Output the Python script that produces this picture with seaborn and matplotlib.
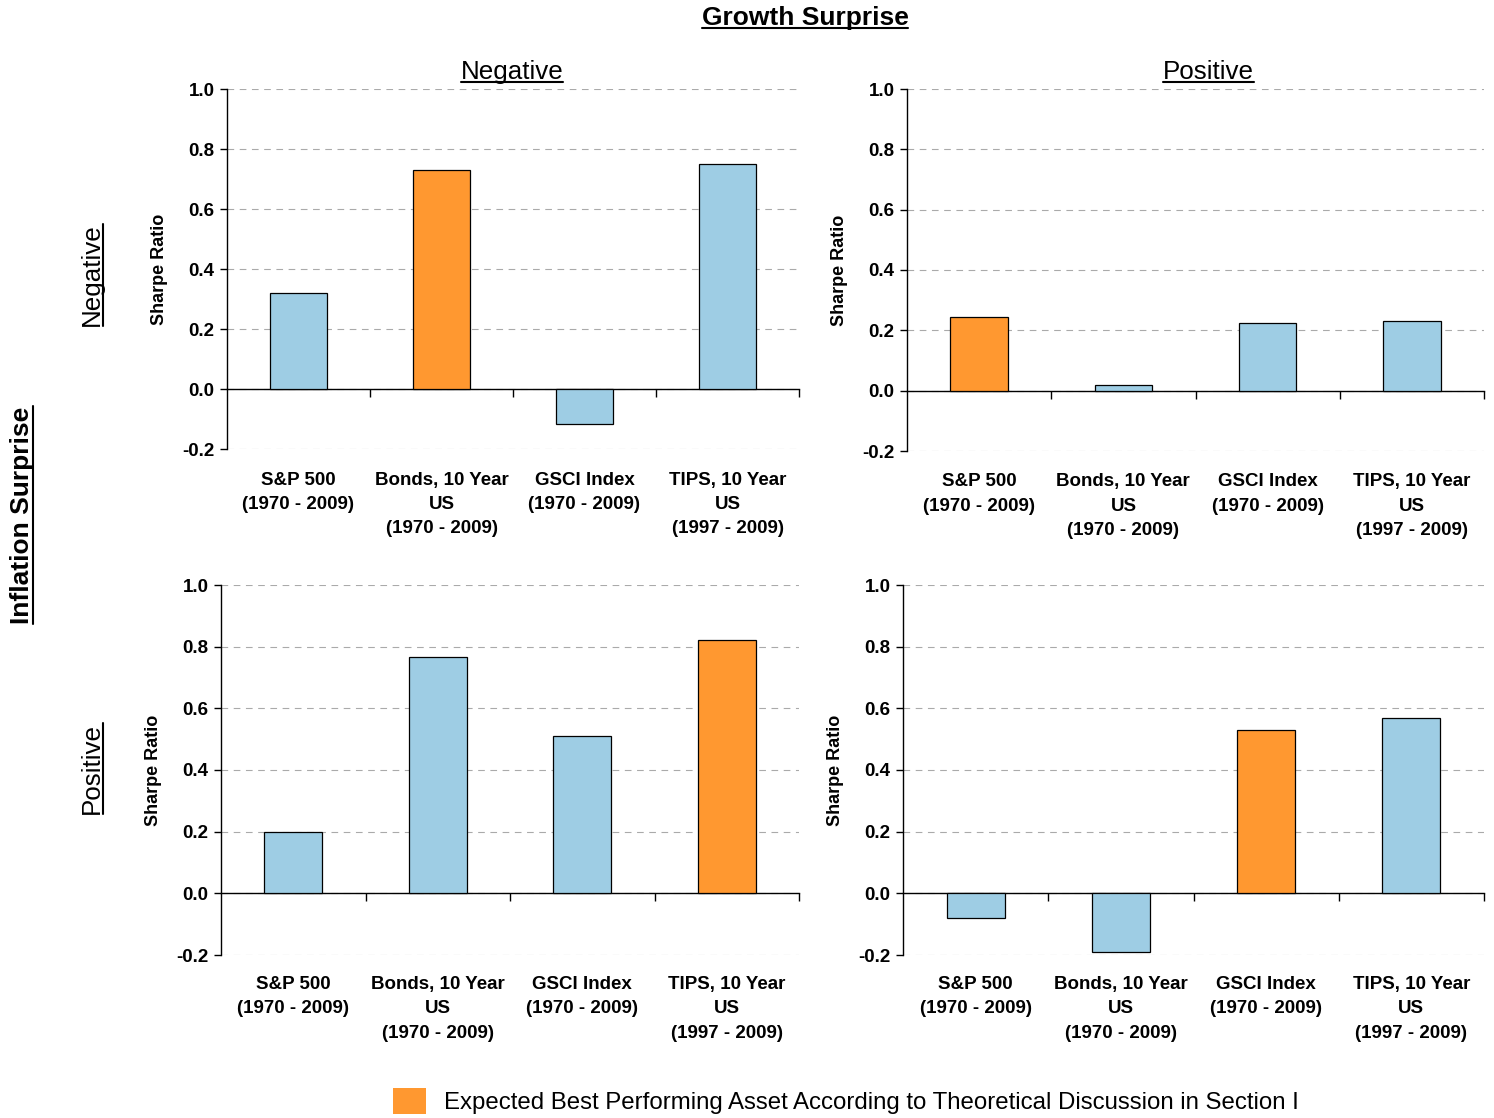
import matplotlib
matplotlib.use('Agg')
import matplotlib.pyplot as plt
import seaborn as sns
import pandas as pd
from matplotlib.lines import Line2D
from matplotlib.patches import Patch

# ============================================================================
# DATA
# ============================================================================
assets = ['S&P 500\n(1970 - 2009)',
          'Bonds, 10 Year\nUS\n(1970 - 2009)',
          'GSCI Index\n(1970 - 2009)',
          'TIPS, 10 Year\nUS\n(1997 - 2009)']

# rows: inflation surprise, columns: growth surprise
infl_neg_growth_neg = [0.32, 0.73, -0.115, 0.75]
infl_neg_growth_pos = [0.245, 0.02, 0.225, 0.23]
infl_pos_growth_neg = [0.20, 0.766, 0.51, 0.82]
infl_pos_growth_pos = [-0.08, -0.19, 0.53, 0.57]

# index of the expected best performing asset in each panel
best_neg_neg = 1
best_neg_pos = 0
best_pos_neg = 3
best_pos_pos = 2

y_ticks = [-0.2, 0.0, 0.2, 0.4, 0.6, 0.8, 1.0]

BLUE = '#9ECDE4'
ORANGE = '#FF9830'
FONT = 'Liberation Sans'

sns.set_theme(style='white')
plt.rcParams['font.family'] = [FONT, 'DejaVu Sans']
plt.rcParams['text.color'] = 'black'
plt.rcParams['axes.labelcolor'] = 'black'
plt.rcParams['xtick.color'] = 'black'
plt.rcParams['ytick.color'] = 'black'

W, H = 1494, 1118
fig = plt.figure(figsize=(W / 100, H / 100), dpi=100)


def px_axes(left, right, top, bottom):
    return fig.add_axes([left / W, 1 - bottom / H, (right - left) / W, (bottom - top) / H])


panels = [
    (px_axes(227, 799, 89, 449), infl_neg_growth_neg, best_neg_neg),
    (px_axes(907, 1484, 89, 451), infl_neg_growth_pos, best_neg_pos),
    (px_axes(221, 799, 585, 955), infl_pos_growth_neg, best_pos_neg),
    (px_axes(903, 1484, 585, 955), infl_pos_growth_pos, best_pos_pos),
]

for ax, values, best in panels:
    df = pd.DataFrame({'asset': assets, 'sharpe': values,
                       'best': [i == best for i in range(len(assets))]})
    sns.barplot(data=df, x='asset', y='sharpe', hue='best',
                palette={True: ORANGE, False: BLUE}, dodge=False, saturation=1,
                width=0.4, edgecolor='black', linewidth=0.9,
                legend=False, ax=ax, zorder=3)
    ax.set_ylim(-0.2, 1.0)
    ax.set_xlim(-0.5, 3.5)
    ax.set_yticks(y_ticks)
    ax.set_yticklabels([f'{t:.1f}' for t in y_ticks], fontsize=13.5, fontweight='bold')
    ax.set_ylabel('Sharpe Ratio', fontsize=13, fontweight='bold', labelpad=10)
    ax.set_xlabel('')
    ax.yaxis.grid(True, linestyle=(0, (6, 5)), color='#aaaaaa', linewidth=0.8)
    ax.xaxis.grid(False)
    ax.set_axisbelow(True)

    # x axis sits on the zero line with ticks at category boundaries
    for s in ['top', 'right']:
        ax.spines[s].set_visible(False)
    ax.spines['bottom'].set_position(('data', 0))
    ax.spines['bottom'].set_color('black')
    ax.spines['left'].set_color('black')
    ax.spines['bottom'].set_linewidth(1.0)
    ax.spines['left'].set_linewidth(1.0)
    ax.set_xticks([0.5, 1.5, 2.5, 3.5], minor=True)
    ax.tick_params(axis='x', which='minor', direction='out', length=6, width=1, color='black', bottom=True)
    ax.tick_params(axis='x', which='major', length=0, pad=59.5)
    ax.set_xticklabels(assets, fontsize=13.5, fontweight='bold', linespacing=1.56)
    ax.tick_params(axis='y', direction='out', length=5, width=1, color='black', left=True, pad=4)

# ============================================================================
# HEADERS
# ============================================================================
headers = [
    dict(s='Growth Surprise', x=805, y=18, size=19, weight='bold', rot=0),
    dict(s='Negative', x=512, y=72, size=18.7, weight='normal', rot=0),
    dict(s='Positive', x=1208, y=72, size=18.7, weight='normal', rot=0),
    dict(s='Negative', x=92, y=275, size=18.7, weight='normal', rot=90),
    dict(s='Positive', x=92, y=768, size=18.7, weight='normal', rot=90),
    dict(s='Inflation Surprise', x=22, y=515, size=19, weight='bold', rot=90),
]
texts = []
for h in headers:
    t = fig.text(h['x'] / W, 1 - h['y'] / H, h['s'], fontsize=h['size'],
                 fontweight=h['weight'], rotation=h['rot'], ha='center', va='center')
    texts.append((t, h['rot']))

# legend at the bottom
fig.legend(handles=[Patch(facecolor=ORANGE, edgecolor='none',
                          label='Expected Best Performing Asset According to Theoretical Discussion in Section I')],
           loc='center', bbox_to_anchor=(846 / W, 1 - 1101 / H), frameon=False,
           fontsize=17.3, handlelength=1.35, handleheight=1.35, handletextpad=0.75)

# underline the headers
fig.canvas.draw()
renderer = fig.canvas.get_renderer()
inv = fig.transFigure.inverted()
for t, rot in texts:
    bb = t.get_window_extent(renderer)
    (x0, y0), (x1, y1) = inv.transform([[bb.x0, bb.y0], [bb.x1, bb.y1]])
    if rot == 0:
        fig.add_artist(Line2D([x0, x1], [y0 + 0.002, y0 + 0.002], color='black', lw=1.5))
    else:
        fig.add_artist(Line2D([x1 - 0.001, x1 - 0.001], [y0, y1], color='black', lw=1.5))

fig.savefig('out.png', dpi=100)
